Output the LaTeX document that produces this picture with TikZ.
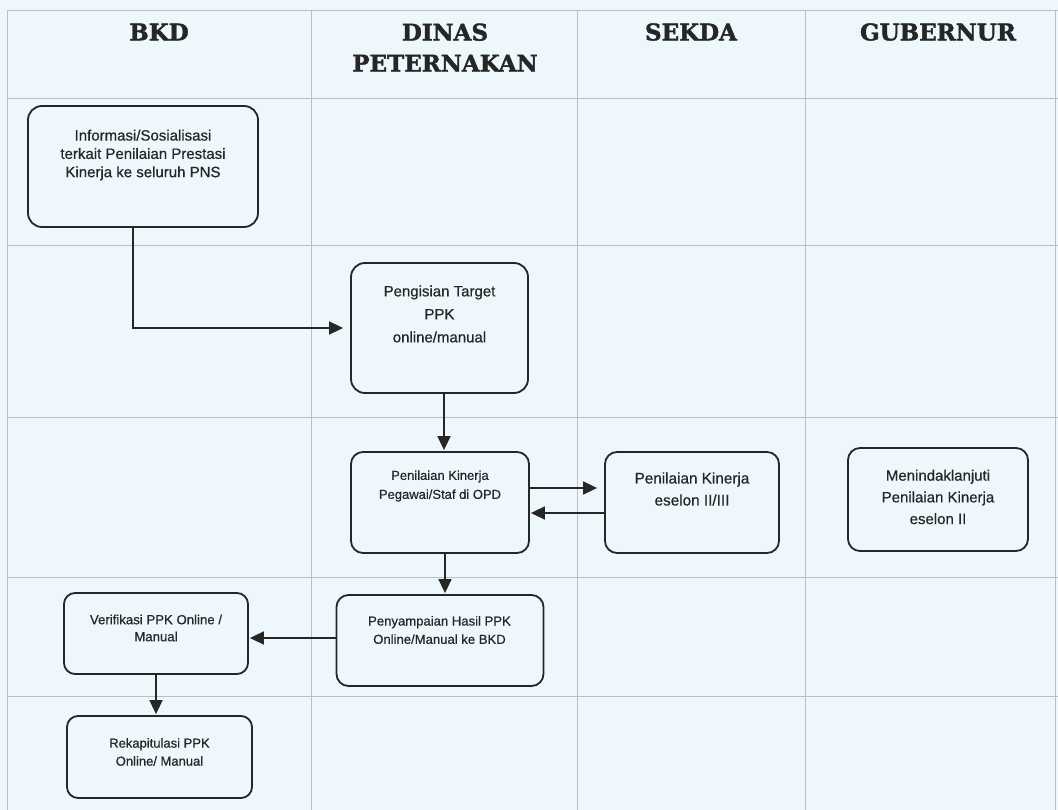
\documentclass[tikz,border=0pt]{standalone}
\usepackage{fontspec}
\setmainfont{Liberation Sans}[UprightFeatures={FakeBold=0.6}]
\newfontfamily\hdrfont{DejaVu Serif}[BoldFeatures={FakeBold=1.8}]
\usetikzlibrary{arrows.meta,calc}
\definecolor{bgc}{HTML}{EEF8FC}
\definecolor{gridc}{HTML}{B7BFC9}
\definecolor{inkc}{HTML}{262626}
\begin{document}
\begin{tikzpicture}[x=1pt,y=-1pt,
  gridline/.style={draw=gridc,line width=0.7pt},
  hdr/.style={font=\hdrfont\bfseries\fontsize{23}{31}\selectfont,text=inkc,align=center,inner sep=0pt},
  box/.style={draw=inkc,line width=1.8pt,rounded corners=14pt,inner sep=0pt},
  txt/.style={align=center,text=inkc,inner sep=0pt},
  arr/.style={draw=inkc,line width=1.6pt,-{Triangle[length=14pt,width=13pt]}}]
\fill[bgc] (0,0) rectangle (1058,810);
\useasboundingbox (0,0) rectangle (1058,810);
% grid
\foreach \xx in {7,311,577,805,1055}{\draw[gridline] (\xx,10) -- (\xx,810);}
\foreach \yy in {10,98,245,417,577,696}{\draw[gridline] (7,\yy) -- (1058,\yy);}
% headers
\node[hdr] (h1) at (159,32) {BKD};
\node[hdr] (h2) at (445,47.5) {DINAS\\PETERNAKAN};
\node[hdr] (h3) at (691,32) {SEKDA};
\node[hdr] (h4) at (938,32) {GUBERNUR};
% boxes
\node[box,minimum width=230pt,minimum height=121pt] (b1) at (143,166.5) {};
\node[box,minimum width=177pt,minimum height=130pt] (b2) at (439.5,328) {};
\node[box,minimum width=178pt,minimum height=101pt,rounded corners=12pt] (b3) at (440,502.5) {};
\node[box,minimum width=174pt,minimum height=101pt,rounded corners=12pt] (b4) at (692,502.5) {};
\node[box,minimum width=180pt,minimum height=103pt,rounded corners=12pt] (b5) at (938,499.5) {};
\node[box,minimum width=184pt,minimum height=81pt,rounded corners=11pt] (b6) at (156,633.5) {};
\node[box,minimum width=207pt,minimum height=91pt,rounded corners=12pt] (b7) at (440,640.5) {};
\node[box,minimum width=185pt,minimum height=82pt,rounded corners=11pt] (b8) at (159.5,757) {};
% texts
\node[txt,font=\fontsize{15}{18.3}\selectfont] (t1) at (143,155) {Informasi/Sosialisasi\\terkait Penilaian Prestasi\\Kinerja ke seluruh PNS};
\node[txt,font=\fontsize{15}{23}\selectfont] (t2) at (439.5,314) {Pengisian Target\\PPK\\online/manual};
\node[txt,font=\fontsize{13}{19}\selectfont] (t3) at (440,486) {Penilaian Kinerja\\Pegawai/Staf di OPD};
\node[txt,font=\fontsize{15.3}{22}\selectfont] (t4) at (692,489) {Penilaian Kinerja\\eselon II/III};
\node[txt,font=\fontsize{15}{21.7}\selectfont] (t5) at (938,497) {Menindaklanjuti\\Penilaian Kinerja\\eselon II};
\node[txt,font=\fontsize{13.2}{17}\selectfont] (t6) at (156,628) {Verifikasi PPK Online /\\Manual};
\node[txt,font=\fontsize{13.1}{18.3}\selectfont] (t7) at (439.5,630) {Penyampaian Hasil PPK\\Online/Manual ke BKD};
\node[txt,font=\fontsize{13}{18}\selectfont] (t8) at (159.5,752) {Rekapitulasi PPK\\Online/ Manual};
% connectors
\draw[arr,shorten >=7pt] ([xshift=-10pt]b1.south) |- (b2.west);
\draw[arr,shorten >=1pt] ([xshift=4.5pt]b2.south) -- ([xshift=4pt]b3.north);
\draw[arr,shorten >=7pt] ([yshift=14.5pt]b3.east) -- ([yshift=14.5pt]b4.west);
\draw[arr,shorten >=1pt] ([yshift=-10.5pt]b4.west) -- ([yshift=-10.5pt]b3.east);
\draw[arr,shorten >=1pt] ([xshift=5pt]b3.south) -- ([xshift=5pt]b7.north);
\draw[arr,shorten >=1pt] ([yshift=2.5pt]b7.west) -- ([yshift=2.5pt]b7.west -| b6.east);
\draw[arr,shorten >=1pt] (b6.south) -- (b6.south |- b8.north);
\end{tikzpicture}
\end{document}
